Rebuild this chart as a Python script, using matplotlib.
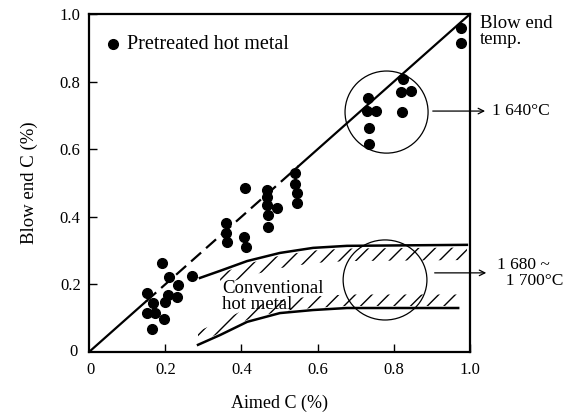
import numpy as np
import matplotlib
matplotlib.use("Agg")
from matplotlib import pyplot as plt
from matplotlib.patches import Ellipse

plt.rcParams['font.family'] = ['Liberation Serif', 'DejaVu Serif']
plt.rcParams['hatch.linewidth'] = 1.0

# pretreated hot metal points (aimed C, blow end C)
aimed_c = [0.976, 0.976, 0.824, 0.819, 0.845, 0.822, 0.732, 0.730, 0.753, 0.735, 0.735,
           0.541, 0.541, 0.546, 0.546, 0.409, 0.467, 0.467, 0.467, 0.493, 0.470, 0.470,
           0.360, 0.360, 0.362, 0.407, 0.412, 0.270, 0.192, 0.210, 0.234, 0.152, 0.207,
           0.231, 0.199, 0.168, 0.152, 0.173, 0.197, 0.165]
blow_c = [0.959, 0.914, 0.808, 0.769, 0.772, 0.710, 0.751, 0.713, 0.713, 0.663, 0.615,
          0.530, 0.497, 0.470, 0.441, 0.485, 0.479, 0.459, 0.435, 0.426, 0.405, 0.370,
          0.382, 0.352, 0.325, 0.340, 0.311, 0.225, 0.263, 0.222, 0.198, 0.175, 0.169,
          0.163, 0.148, 0.145, 0.115, 0.115, 0.098, 0.068]

# conventional hot metal band
band_x = [0.291, 0.344, 0.415, 0.501, 0.588, 0.677, 0.992]
band_hi = [0.219, 0.240, 0.269, 0.293, 0.308, 0.314, 0.317]
low_x = [0.286, 0.344, 0.415, 0.501, 0.588, 0.677, 0.969]
band_lo = [0.021, 0.050, 0.089, 0.115, 0.124, 0.130, 0.130]

ticks = [0.2, 0.4, 0.6, 0.8]
tick_labels = ['0.2', '0.4', '0.6', '0.8']

fig = plt.figure(figsize=(5.86, 4.15), dpi=100)
ax = fig.add_axes([0.152, 0.152, 0.650, 0.814])
ax.set_xlim(0, 1)
ax.set_ylim(0, 1)

# 45 deg line, broken among the points
ax.plot([0, 0.15], [0, 0.15], color='black', lw=1.6)
ax.plot([0.15, 0.55], [0.15, 0.55], color='black', lw=1.6, dashes=(6, 3))
ax.plot([0.55, 1.0], [0.55, 1.0], color='black', lw=1.6)

ax.plot(aimed_c, blow_c, 'o', color='black', ms=7, clip_on=False)

ax.plot(band_x, band_hi, color='black', lw=1.8)
ax.plot(low_x, band_lo, color='black', lw=1.8)
hx = np.array(band_x)
hy = np.array(band_hi)
ax.fill_between(hx[1:], hy[1:] - 0.045, hy[1:] - 0.008, facecolor='none', edgecolor='black',
                hatch='//', linewidth=0)
lx = np.array(low_x)
ly = np.array(band_lo)
ax.fill_between(lx, ly + 0.006, ly + 0.04, facecolor='none', edgecolor='black',
                hatch='//', linewidth=0)

ax.add_patch(Ellipse((0.781, 0.710), 0.218, 0.243, fill=False, lw=0.9))
ax.add_patch(Ellipse((0.777, 0.213), 0.220, 0.237, fill=False, lw=0.9))

ax.annotate('', xy=(1.047, 0.713), xytext=(0.895, 0.713), annotation_clip=False,
            arrowprops=dict(arrowstyle='->', color='black', lw=0.9))
ax.annotate('', xy=(1.05, 0.234), xytext=(0.90, 0.234), annotation_clip=False,
            arrowprops=dict(arrowstyle='->', color='black', lw=0.9))

ax.text(1.058, 0.713, '1 640°C', fontsize=12.5, va='center', ha='left')
ax.text(1.072, 0.234, '1 680 ~\n  1 700°C', fontsize=12.5, va='center', ha='left',
        linespacing=1.0)
ax.text(1.026, 0.998, 'Blow end\ntemp.', fontsize=13.5, va='top', ha='left',
        linespacing=0.95)
ax.plot([0.063], [0.911], 'o', color='black', ms=7)
ax.text(0.100, 0.911, 'Pretreated hot metal', fontsize=14.5, va='center', ha='left')
ax.text(0.349, 0.164, 'Conventional\nhot metal', fontsize=13.5, va='center', ha='left',
        linespacing=0.95)

for s in ['left', 'bottom', 'top', 'right']:
    ax.spines[s].set_linewidth(1.6)
ax.set_xticks(ticks + [1.0])
ax.set_xticklabels(tick_labels + ['1.0'], fontsize=12)
ax.set_yticks(ticks + [1.0])
ax.set_yticklabels(tick_labels + ['1.0'], fontsize=12)
ax.tick_params(direction='in', length=6, width=1.0, pad=6)
ax.tick_params(axis='x', pad=7)
ax.text(-0.03, 0.0, '0', fontsize=12, ha='right', va='center')
ax.text(0.005, -0.03, '0', fontsize=12, ha='center', va='top')

ax.set_xlabel('Aimed C (%)', fontsize=13, labelpad=12)
ax.set_ylabel('Blow end C (%)', fontsize=13.5, labelpad=16)

plt.savefig("out.png", dpi=100)
